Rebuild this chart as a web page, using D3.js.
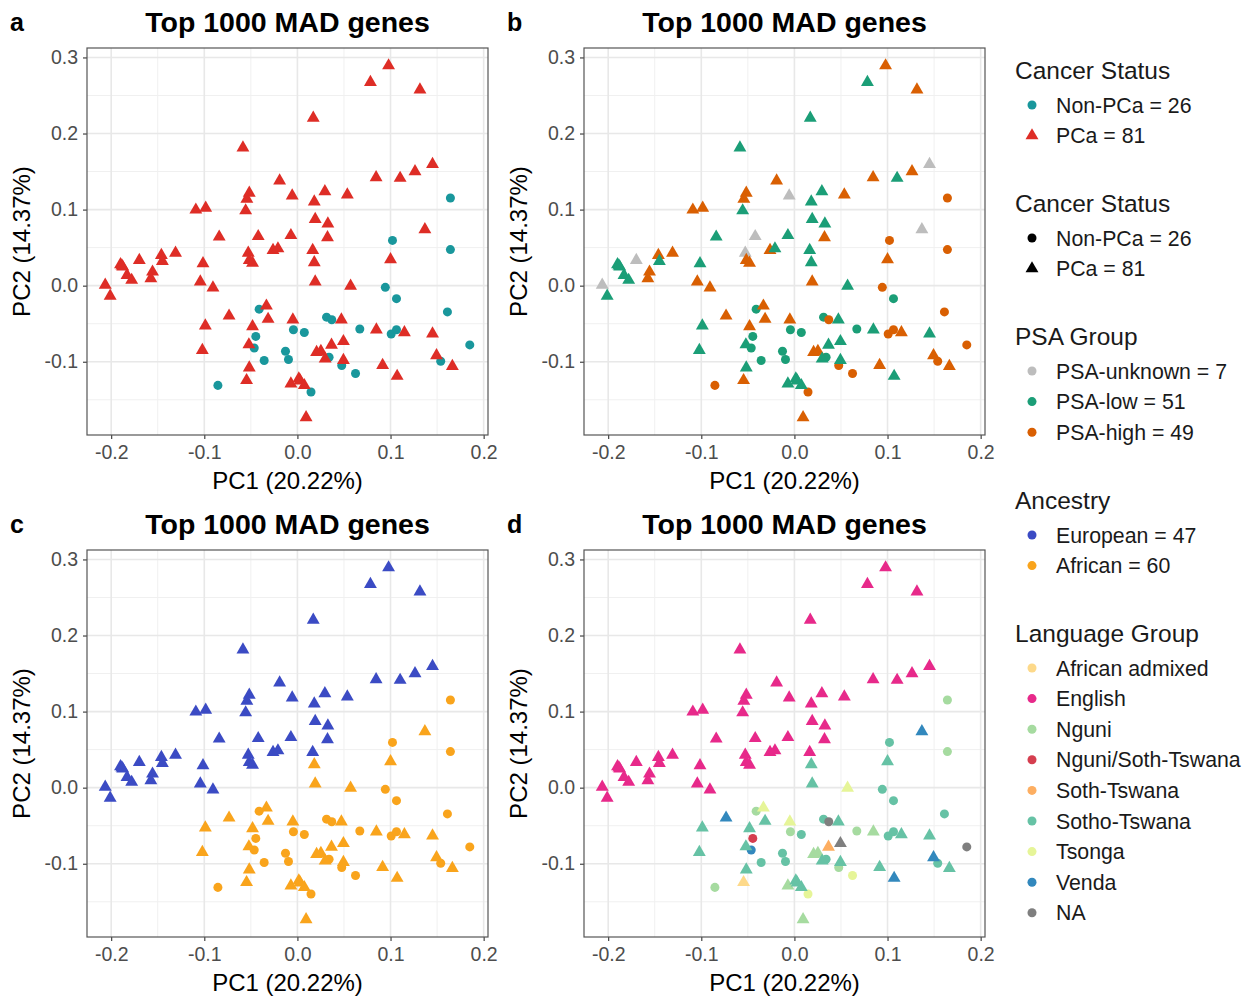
<!DOCTYPE html>
<html>
<head>
<meta charset="utf-8">
<script src="https://cdn.jsdelivr.net/npm/d3@7"></script>
<style>
  body { margin: 0; background: #fff; }
  svg text { font-family: "Liberation Sans", Arial, Helvetica, sans-serif; }
</style>
</head>
<body>
<svg id="chart" width="1251" height="998"></svg>
<script>
// PCA scores: 26 Non-PCa samples first, then 81 PCa samples
const pc1 = [
  0.1643, 0.1021, 0.1643, 0.0944, 0.1064, 0.1611, 0.0313, 0.0369, -0.0043, 0.0074,
  0.0670, 0.1007, 0.1064, 0.1851, 0.0340, 0.0476, -0.0128, -0.0096, 0.1539, 0.0624,
  0.0146, -0.0411, -0.0447, -0.0464, -0.0357, -0.0854,
  -0.0585, -0.0191, -0.0517, -0.0543, -0.0056, -0.1091, -0.0985, -0.0556, -0.0840, -0.0421,
  -0.0070, -0.0528, -0.0517, -0.0482, -0.0262, -0.0209, -0.1309, -0.1461, -0.1450, -0.1698,
  -0.1900, -0.1876, -0.1556, -0.1574, -0.1830, -0.1780, -0.2064, -0.2011, -0.1014, -0.1043,
  -0.0907, -0.0734, -0.0989, -0.1021, -0.0333, -0.0315, -0.0482, -0.0049, -0.0521, -0.0517,
  -0.0546, -0.0070, 0.0979, 0.0784, 0.1316, 0.0170, 0.1451, 0.1263, 0.1103, 0.0845,
  0.0295, 0.0181, 0.0536, 0.0191, 0.0327, 0.0323, 0.1369, 0.0164, 0.0181, 0.1000,
  0.0191, 0.0571, 0.0472, 0.0848, 0.1149, 0.1451, 0.0494, 0.0366, 0.0206, 0.0252,
  0.0298, 0.0494, 0.1494, 0.1664, 0.0915, 0.1071, 0.0015, 0.0074, 0.0093, -0.1885,
  0.0030
];
const pc2 = [
  0.1153, 0.0595, 0.0474, -0.0022, -0.0171, -0.0345, -0.0414, -0.0449, -0.0580, -0.0615,
  -0.0570, -0.0636, -0.0580, -0.0779, -0.0941, -0.1050, -0.0863, -0.0971, -0.0993, -0.1154,
  -0.1398, -0.0309, -0.0667, -0.0819, -0.0984, -0.1311,
  0.1813, 0.1379, 0.1218, 0.1140, 0.1183, 0.0996, 0.1022, 0.0987, 0.0641, 0.0648,
  0.0661, 0.0430, 0.0334, 0.0299, 0.0465, 0.0487, 0.0430, 0.0400, 0.0321, 0.0334,
  0.0278, 0.0247, 0.0181, 0.0095, 0.0138, 0.0073, 0.0008, -0.0136, 0.0291, 0.0051,
  -0.0027, -0.0397, -0.0527, -0.0850, -0.0266, -0.0440, -0.0537, -0.0449, -0.0775, -0.1080,
  -0.1245, -0.1289, 0.2893, 0.2675, 0.2576, 0.2205, 0.1597, 0.1500, 0.1414, 0.1422,
  0.1239, 0.1104, 0.1196, 0.0873, 0.0813, 0.0634, 0.0739, 0.0465, 0.0304, 0.0343,
  0.0051, -0.0005, -0.0449, -0.0580, -0.0615, -0.0632, -0.0732, -0.0779, -0.0876, -0.0863,
  -0.0962, -0.0980, -0.0919, -0.1059, -0.1046, -0.1189, -0.1223, -0.1311, -0.1732, 0.0262,
  -0.1250
];
const cancerStatus = d3.range(107).map(i => i < 26 ? "Non-PCa" : "PCa");

// PSA group: U = unknown, L = low, H = high (same order as pc1/pc2)
const psaCodes =
  "HHHHLHLHLL" + "LHHHLHLLHH" + "HLLLLH" +
  "LHHHUHHLLU" + "LUHHHLHHLU" + "LLHHLLULLH" + "HHLLHHHHLL" +
  "HLHLHLUHLH" + "LLHLLHULLH" + "HLLLHLLLHH" + "LLHHHLLLH" + "LL";
const psaNames = { U: "PSA-unknown", L: "PSA-low", H: "PSA-high" };
const psaGroup = psaCodes.split("").map(c => psaNames[c]);

// language group codes
const langCodes = [
  "Ng","ST","Ng","ST","ST","ST","ST","NA","Ng","ST",
  "Ng","ST","ST","NA","ST","Ng","ST","ST","ST","Ts",
  "Ts","Ng","NS","Ve","ST","Ng",
  "En","En","En","En","En","En","En","En","En","En",
  "En","En","En","En","En","En","En","En","En","En",
  "En","En","En","En","En","En","En","En","En","En",
  "En","Ve","ST","ST","Ts","ST","ST","Ts","ST","ST",
  "AA","Ng","En","En","En","En","En","En","En","En",
  "En","En","En","En","En","En","Ve","En","ST","ST",
  "ST","Ts","ST","Ng","ST","ST","NA","So","Ng","Ng",
  "ST","ST","Ve","ST","ST","Ve","ST","ST","Ng","En",
  "ST"
];
const langNames = {
  AA: "African admixed", En: "English", Ng: "Nguni", NS: "Nguni/Soth-Tswana",
  So: "Soth-Tswana", ST: "Sotho-Tswana", Ts: "Tsonga", Ve: "Venda", NA: "NA"
};
const languageGroup = langCodes.map(c => langNames[c]);
const ancestry = langCodes.map(c => c === "En" ? "European" : "African");

// legend categories and colours
const cancerLevels = ["Non-PCa", "PCa"];
const cancerColors = ["#19979c", "#de2d26"];
const psaLevels = ["PSA-unknown", "PSA-low", "PSA-high"];
const psaColors = ["#bdbdbd", "#1b9e77", "#d95f02"];
const ancestryLevels = ["European", "African"];
const ancestryColors = ["#3b4bc4", "#f9a41c"];
const languageLevels = ["African admixed", "English", "Nguni", "Nguni/Soth-Tswana",
  "Soth-Tswana", "Sotho-Tswana", "Tsonga", "Venda", "NA"];
const languageColors = ["#fdd98a", "#e7298a", "#a6dba0", "#d53e4f",
  "#fdae61", "#66c2a5", "#e6f598", "#3288bd", "#7f7f7f"];

const xTicks = [-0.2, -0.1, 0.0, 0.1, 0.2];
const yTicks = [-0.1, 0.0, 0.1, 0.2, 0.3];

const data = pc1.map((x, i) => ({
  pc1: x, pc2: pc2[i], cancer: cancerStatus[i], psa: psaGroup[i],
  ancestry: ancestry[i], language: languageGroup[i]
}));

const svg = d3.select("#chart");

// ggplot style 5% expansion
const xExt = d3.extent(data, d => d.pc1), yExt = d3.extent(data, d => d.pc2);
const xPad = (xExt[1] - xExt[0]) * 0.05, yPad = (yExt[1] - yExt[0]) * 0.05;
const pw = 401, ph = 387;
const x = d3.scaleLinear().domain([xExt[0] - xPad, xExt[1] + xPad]).range([0, pw]);
const y = d3.scaleLinear().domain([yExt[0] - yPad, yExt[1] + yPad]).range([ph, 0]);

const symCircle = d3.symbol().type(d3.symbolCircle).size(64);
const symTri = d3.symbol().type(d3.symbolTriangle).size(72);
const shapeOf = c => c === "Non-PCa" ? symCircle() : symTri();

const panels = [
  { letter: "a", left: 87, top: 48, field: "cancer", levels: cancerLevels, colors: cancerColors },
  { letter: "b", left: 584, top: 48, field: "psa", levels: psaLevels, colors: psaColors },
  { letter: "c", left: 87, top: 550, field: "ancestry", levels: ancestryLevels, colors: ancestryColors },
  { letter: "d", left: 584, top: 550, field: "language", levels: languageLevels, colors: languageColors }
];

panels.forEach(p => {
  const color = d3.scaleOrdinal().domain(p.levels).range(p.colors);
  const g = svg.append("g").attr("transform", `translate(${p.left},${p.top})`);

  // minor grid
  const xMinor = [-0.25, -0.15, -0.05, 0.05, 0.15].filter(v => x(v) > 0 && x(v) < pw);
  const yMinor = [-0.15, -0.05, 0.05, 0.15, 0.25].filter(v => y(v) > 0 && y(v) < ph);
  g.selectAll(".xminor").data(xMinor).join("line")
    .attr("x1", d => x(d)).attr("x2", d => x(d)).attr("y1", 0).attr("y2", ph)
    .attr("stroke", "#f0f0f0").attr("stroke-width", 1);
  g.selectAll(".yminor").data(yMinor).join("line")
    .attr("y1", d => y(d)).attr("y2", d => y(d)).attr("x1", 0).attr("x2", pw)
    .attr("stroke", "#f0f0f0").attr("stroke-width", 1);
  // major grid
  g.append("g").selectAll("line").data(xTicks).join("line")
    .attr("x1", d => x(d)).attr("x2", d => x(d)).attr("y1", 0).attr("y2", ph)
    .attr("stroke", "#e8e8e8").attr("stroke-width", 1.6);
  g.append("g").selectAll("line").data(yTicks).join("line")
    .attr("y1", d => y(d)).attr("y2", d => y(d)).attr("x1", 0).attr("x2", pw)
    .attr("stroke", "#e8e8e8").attr("stroke-width", 1.6);

  // axes
  const xAxis = g.append("g").attr("transform", `translate(0,${ph})`)
    .call(d3.axisBottom(x).tickValues(xTicks).tickSize(4).tickPadding(6).tickFormat(d => d.toFixed(1)));
  const yAxis = g.append("g")
    .call(d3.axisLeft(y).tickValues(yTicks).tickSize(4).tickPadding(5).tickFormat(d => d.toFixed(1)));
  [xAxis, yAxis].forEach(a => {
    a.select(".domain").remove();
    a.selectAll(".tick line").attr("stroke", "#333").attr("stroke-width", 1.1);
    a.selectAll("text").attr("fill", "#4d4d4d").style("font-size", "19.5px");
  });

  // points
  g.selectAll("path.pt").data(data).join("path")
    .attr("class", "pt")
    .attr("d", d => shapeOf(d.cancer))
    .attr("transform", d => `translate(${x(d.pc1)},${y(d.pc2)})`)
    .attr("fill", d => color(d[p.field]));

  // panel border
  g.append("rect").attr("width", pw).attr("height", ph)
    .attr("fill", "none").attr("stroke", "#555").attr("stroke-width", 1.2);

  // titles
  g.append("text").attr("x", pw / 2).attr("y", -16).attr("text-anchor", "middle")
    .style("font-size", "28.5px").style("font-weight", "bold").text("Top 1000 MAD genes");
  g.append("text").attr("x", -77).attr("y", -17)
    .style("font-size", "25px").style("font-weight", "bold").text(p.letter);
  g.append("text").attr("x", pw / 2).attr("y", ph + 54).attr("text-anchor", "middle")
    .style("font-size", "24px").text("PC1 (20.22%)");
  g.append("text").attr("transform", `translate(${-57},${ph / 2}) rotate(-90)`)
    .attr("text-anchor", "middle").style("font-size", "24px").text("PC2 (14.37%)");
});

// legends
const counts = (field, level) => data.filter(d => d[field] === level).length;
const legends = [
  { title: "Cancer Status", top: 70, items: cancerLevels.map((l, i) => ({
      label: `${l} = ${counts("cancer", l)}`, color: cancerColors[i], shape: l })) },
  { title: "Cancer Status", top: 203, items: cancerLevels.map(l => ({
      label: `${l} = ${counts("cancer", l)}`, color: "#000", shape: l })) },
  { title: "PSA Group", top: 336, items: psaLevels.map((l, i) => ({
      label: `${l} = ${counts("psa", l)}`, color: psaColors[i], shape: "Non-PCa" })) },
  { title: "Ancestry", top: 500, items: ancestryLevels.map((l, i) => ({
      label: `${l} = ${counts("ancestry", l)}`, color: ancestryColors[i], shape: "Non-PCa" })) },
  { title: "Language Group", top: 633, items: languageLevels.map((l, i) => ({
      label: l, color: languageColors[i], shape: "Non-PCa" })) }
];

legends.forEach(lg => {
  const g = svg.append("g").attr("transform", `translate(1015,${lg.top})`);
  g.append("text").attr("y", 9).style("font-size", "24.5px").attr("fill", "#1a1a1a").text(lg.title);
  const items = g.selectAll("g.item").data(lg.items).join("g")
    .attr("transform", (d, i) => `translate(0,${35 + i * 30.6})`);
  items.append("path").attr("d", d => shapeOf(d.shape))
    .attr("transform", "translate(17,0)").attr("fill", d => d.color);
  items.append("text").attr("x", 41).attr("y", 7.5).style("font-size", "21.3px")
    .attr("fill", "#1a1a1a").text(d => d.label);
});
</script>
</body>
</html>
